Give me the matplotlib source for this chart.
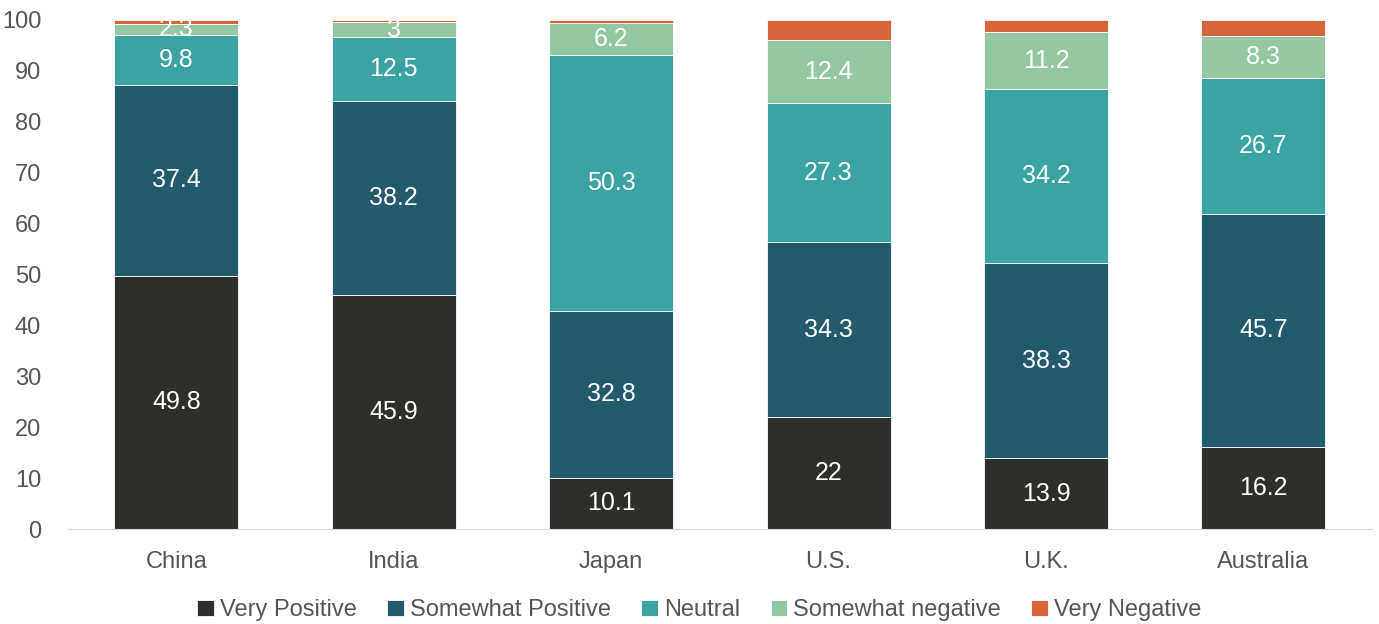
import numpy as np
import matplotlib.pyplot as plt

plt.rcParams['font.family'] = ['Liberation Sans', 'DejaVu Sans']

countries = ['China', 'India', 'Japan', 'U.S.', 'U.K.', 'Australia']
very_pos = [49.8, 45.9, 10.1, 22, 13.9, 16.2]
some_pos = [37.4, 38.2, 32.8, 34.3, 38.3, 45.7]
neutral = [9.8, 12.5, 50.3, 27.3, 34.2, 26.7]
some_neg = [2.3, 3, 6.2, 12.4, 11.2, 8.3]
very_neg = [0.7, 0.4, 0.6, 4.0, 2.4, 3.1]

series = [
    ('Very Positive', very_pos, '#2e2e2a', True),
    ('Somewhat Positive', some_pos, '#215b6c', True),
    ('Neutral', neutral, '#3ca3a3', True),
    ('Somewhat negative', some_neg, '#93c8a3', True),
    ('Very Negative', very_neg, '#d5663b', False),
]

fig = plt.figure(figsize=(13.79, 6.24), dpi=100)
ax = fig.add_axes([0.049, 0.152, 0.946, 0.816])

x = np.arange(len(countries))
bottom = np.zeros(len(countries))
for name, vals, color, show in series:
    vals = np.array(vals, dtype=float)
    bars = ax.bar(x, vals, 0.57, bottom=bottom, color=color, label=name,
                  edgecolor='white', linewidth=0.6)
    if show:
        for xi, b, v in zip(x, bottom, vals):
            ax.text(xi, b + v / 2, f'{v:g}', ha='center', va='center',
                    color='white', fontsize=18)
    bottom += vals

ax.set_xlim(-0.5, len(countries) - 0.5)
ax.set_ylim(0, 100)
ax.set_yticks(range(0, 101, 10))
ax.set_xticks(x)
ax.set_xticklabels(countries)
ax.tick_params(axis='both', length=0, labelsize=17, labelcolor='#555555')
ax.tick_params(axis='x', pad=16)
ax.tick_params(axis='y', pad=19)
for s in ['top', 'right', 'left']:
    ax.spines[s].set_visible(False)
ax.spines['bottom'].set_color('#d9d9d9')

leg = fig.legend(loc='lower center', bbox_to_anchor=(0.507, -0.03), ncol=5,
                 frameon=False, fontsize=17, handlelength=0.7, handleheight=0.7,
                 handletextpad=0.25, columnspacing=1.3, labelcolor='#555555')

fig.savefig('out.png', dpi=100)
